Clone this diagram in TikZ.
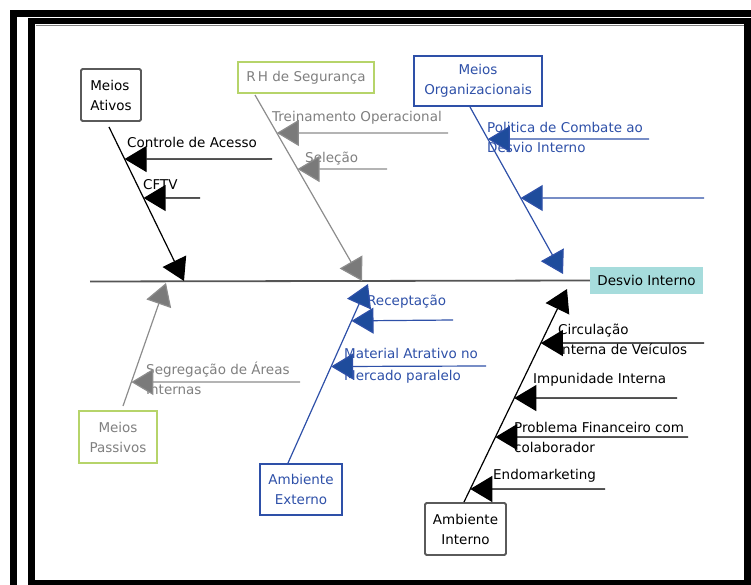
\documentclass[tikz,border=0pt]{standalone}
\usepackage{fontspec}
\setmainfont{DejaVu Sans}
\usetikzlibrary{arrows.meta,calc}
\definecolor{boneblue}{HTML}{2E50A8}
\definecolor{headblue}{HTML}{1E4C9C}
\definecolor{bonegray}{HTML}{8C8C8C}
\definecolor{headgray}{HTML}{7A7A7A}
\definecolor{textgray}{HTML}{7F7F7F}
\definecolor{limeedge}{HTML}{B6D46A}
\definecolor{cyanfill}{HTML}{A6DCDC}
\definecolor{edgegray}{HTML}{5A5A5A}
\definecolor{spinegray}{HTML}{555555}
\begin{document}
\begin{tikzpicture}[x=1pt,y=-1pt,
  font=\fontsize{13.5}{20}\selectfont,
  catbox/.style={rectangle, inner sep=0pt, align=center},
  lbl/.style={anchor=west, inner sep=0pt, align=left},
  tipblack/.style={-{Triangle[length=22pt,width=26pt]}, draw=black, fill=black, line width=1.2pt},
  tipgray/.style={-{Triangle[length=22pt,width=26pt,fill=headgray]}, draw=bonegray, line width=1.2pt},
  tipblue/.style={-{Triangle[length=22pt,width=26pt,fill=headblue]}, draw=boneblue, line width=1.2pt},
]
\useasboundingbox (0,0) rectangle (751,585);

% frame
\fill[black] (10,10) rectangle (751,17);
\fill[black] (10,10) rectangle (17,585);
\fill[black] (28,18) rectangle (751,24);
\fill[black] (28,18) rectangle (35,585);
\fill[black] (744,18) rectangle (751,585);
\fill[black] (28,580) rectangle (751,585);
\draw[gray, line width=0.8pt] (35.5,25) -- (743.5,25);

% spine and effect
\node[catbox, fill=cyanfill, minimum width=113pt, minimum height=27pt] (eff) at (646.5,280.5) {Desvio Interno};
\coordinate (spS) at (90,281.5);
\draw[spinegray, line width=1.8pt] (spS) -- (eff.west);

% category boxes
\node[catbox, draw=edgegray, line width=1.8pt, rounded corners=1.5pt, minimum width=60pt, minimum height=52pt, align=left] (ma) at (111,95) {Meios\\Ativos};
\node[catbox, draw=limeedge, line width=1.8pt, text=textgray, minimum width=136pt, minimum height=31pt] (rh) at (306,77.5) {R\,H de Segurança};
\node[catbox, draw=boneblue, line width=1.4pt, text=boneblue, minimum width=128pt, minimum height=50pt] (mo) at (478,81) {Meios\\Organizacionais};
\node[catbox, draw=limeedge, line width=1.8pt, text=textgray, minimum width=78pt, minimum height=52pt] (mp) at (118,437) {Meios\\Passivos};
\node[catbox, draw=boneblue, line width=1.4pt, text=boneblue, minimum width=82pt, minimum height=51pt] (ae) at (301,489.5) {Ambiente\\Externo};
\node[catbox, draw=edgegray, line width=1.8pt, rounded corners=1.5pt, minimum width=81pt, minimum height=52pt] (ai) at (465.5,529) {Ambiente\\Interno};

% bone end points
\coordinate (maS) at (109,127);  \coordinate (maT) at (184,281);
\coordinate (rhS) at (255,95);   \coordinate (rhT) at (362,281);
\coordinate (moS) at (470,107);  \coordinate (moT) at (563,274);
\coordinate (mpS) at (123,406);  \coordinate (mpT) at (166,283);
\coordinate (aeS) at (288,463);  \coordinate (aeT) at (368,284);
\coordinate (aiS) at (464,502);  \coordinate (aiT) at (567,289);

% rib tips on the bones
\path (maS) -- (maT) coordinate[pos=0.208] (maR1) coordinate[pos=0.461] (maR2);
\path (rhS) -- (rhT) coordinate[pos=0.204] (rhR1) coordinate[pos=0.398] (rhR2);
\path (moS) -- (moT) coordinate[pos=0.192] (moR1) coordinate[pos=0.545] (moR2);
\path (mpS) -- (mpT) coordinate[pos=0.195] (mpR1);
\path (aeS) -- (aeT) coordinate[pos=0.794] (aeR1) coordinate[pos=0.539] (aeR2);
\path (aiS) -- (aiT) coordinate[pos=0.746] (aiR1) coordinate[pos=0.488] (aiR2)
                     coordinate[pos=0.305] (aiR3) coordinate[pos=0.061] (aiR4);

% rib free ends
\coordinate (maE1) at (272,159);  \coordinate (maE2) at (200,198);
\coordinate (rhE1) at (448,133);  \coordinate (rhE2) at (387,169);
\coordinate (moE1) at (649,139);  \coordinate (moE2) at (704,198);
\coordinate (mpE1) at (300,382);
\coordinate (aeE1) at (453,320);  \coordinate (aeE2) at (486,366);
\coordinate (aiE1) at (704,343);  \coordinate (aiE2) at (677,398);
\coordinate (aiE3) at (688,437);  \coordinate (aiE4) at (605,489);

% rib labels
\node[lbl] (l1) at (127,142) {Controle de Acesso};
\node[lbl] (l2) at (143,185) {CFTV};
\node[lbl, text=textgray] (l3) at (272,118) {Treinamento Operacional};
\node[lbl, text=textgray] (l4) at (305,159) {Seleção};
\node[lbl, text=boneblue] (l5) at (487,137) {Politica de Combate ao\\Desvio Interno};
\node[lbl, text=textgray] (l6) at (146,378) {Segregação de Áreas\\Internas};
\node[lbl, text=boneblue] (l7) at (367,302) {Receptação};
\node[lbl, text=boneblue, font=\fontsize{13.5}{22}\selectfont] (l8) at (344,365.5) {Material Atrativo no\\Mercado paralelo};
\node[lbl] (l9) at (558,339) {Circulação\\Interna de Veículos};
\node[lbl] (l10) at (533,380) {Impunidade Interna};
\node[lbl] (l11) at (514,437) {Problema Financeiro com\\colaborador};
\node[lbl] (l12) at (493,476) {Endomarketing};

% ribs
\draw[tipblack] (maE1) -- (maR1);
\draw[tipblack] (maE2) -- (maR2);
\draw[tipgray] (rhE1) -- (rhR1);
\draw[tipgray] (rhE2) -- (rhR2);
\draw[tipblue] (moE1) -- (moR1);
\draw[tipblue] (moE2) -- (moR2);
\draw[tipgray] (mpE1) -- (mpR1);
\draw[tipblue] (aeE1) -- (aeR1);
\draw[tipblue] (aeE2) -- (aeR2);
\draw[tipblack] (aiE1) -- (aiR1);
\draw[tipblack] (aiE2) -- (aiR2);
\draw[tipblack] (aiE3) -- (aiR3);
\draw[tipblack] (aiE4) -- (aiR4);

% bones
\draw[tipblack] (maS) -- (maT);
\draw[tipgray] (rhS) -- (rhT);
\draw[tipblue] (moS) -- (moT);
\draw[tipgray] (mpS) -- (mpT);
\draw[tipblue] (aeS) -- (aeT);
\draw[tipblack] (aiS) -- (aiT);
\end{tikzpicture}
\end{document}
